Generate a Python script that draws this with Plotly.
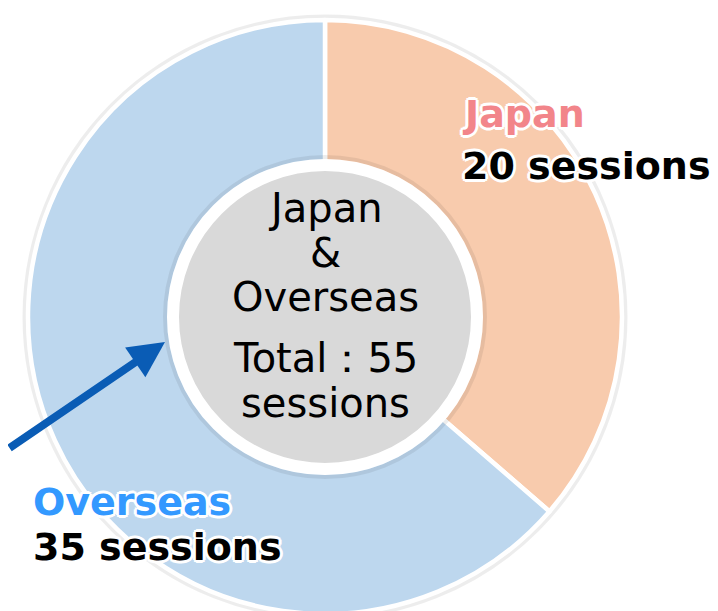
import plotly.graph_objects as go

# ---- data ----
regions = ["Japan", "Overseas"]
sessions = [20, 35]
center_title = ["Japan", "&", "Overseas"]
unit = "sessions"

total = sum(sessions)

# ---- styles ----
W, H = 718, 611
OFF = 8  # page offset of the plot div (default body margin)
slice_colors = ["#F8CBAD", "#BDD7EE"]
label_colors = ["#F2858A", "#3399FF"]
FONT = "DejaVu Sans"
outline = ", ".join(
    f"{dx}px {dy}px 0 #ffffff"
    for dx, dy in [(2, 0), (-2, 0), (0, 2), (0, -2), (2, 2), (-2, -2), (2, -2), (-2, 2),
                   (3, 0), (-3, 0), (0, 3), (0, -3)]
)

cx, cy, R = 325, 317, 297  # pie centre / radius in page pixels


def px(x):
    return (x - OFF) / W


def py(y):
    return 1 - (y - OFF) / H


fig = go.Figure()
fig.add_trace(go.Pie(
    labels=regions,
    values=sessions,
    sort=False,
    direction="clockwise",
    rotation=0,
    hole=0.5,
    textinfo="none",
    hoverinfo="label+value",
    marker=dict(colors=slice_colors, line=dict(color="#ffffff", width=4.5)),
    domain=dict(x=[px(cx - R), px(cx + R)], y=[py(cy + R), py(cy - R)]),
    showlegend=False,
))

shapes = []
# faint shadow around the ring
shapes.append(dict(type="circle", xref="paper", yref="paper", layer="below",
                   x0=px(cx - R - 3), x1=px(cx + R + 3), y0=py(cy + R + 3), y1=py(cy - R - 3),
                   line=dict(color="rgba(0,0,0,0.07)", width=5), fillcolor="rgba(0,0,0,0)"))
# shadow of inner disc
ri = 160
shapes.append(dict(type="circle", xref="paper", yref="paper", layer="above",
                   x0=px(cx - ri), x1=px(cx + ri), y0=py(cy + ri), y1=py(cy - ri),
                   line=dict(color="rgba(0,0,0,0.07)", width=4), fillcolor="rgba(0,0,0,0)"))
# inner grey disc with white border
rc = 152
shapes.append(dict(type="circle", xref="paper", yref="paper", layer="above",
                   x0=px(cx - rc), x1=px(cx + rc), y0=py(cy + rc), y1=py(cy - rc),
                   line=dict(color="#ffffff", width=12), fillcolor="#D9D9D9"))

ann = []
# slice labels
label_pos = [(460, 114, 166), (31, 502, 547)]
for i, (lx, ty, vy) in enumerate(label_pos):
    ann.append(dict(x=px(lx), y=py(ty), xref="paper", yref="paper", xanchor="left", yanchor="middle",
                    text=regions[i], showarrow=False,
                    font=dict(family=FONT, size=38, weight="bold", color=label_colors[i], shadow=outline)))
    ann.append(dict(x=px(lx), y=py(vy), xref="paper", yref="paper", xanchor="left", yanchor="middle",
                    text=f"{sessions[i]} {unit}", showarrow=False,
                    font=dict(family=FONT, size=38, weight="bold", color="#000000", shadow=outline)))

# centre text
center_lines = center_title + [f"Total：{total}", unit]
center_y = [208, 253, 297, 358, 403]
for t, yy in zip(center_lines, center_y):
    ann.append(dict(x=px(cx), y=py(yy), xref="paper", yref="paper", xanchor="center", yanchor="middle",
                    text=t, showarrow=False, font=dict(family=FONT, size=40, color="#000000")))

# arrow pointing to the centre
ann.append(dict(x=px(165), y=py(342), xref="paper", yref="paper", text="",
                showarrow=True, ax=-175, ay=107, arrowcolor="#0A5CB5", arrowwidth=8,
                arrowhead=2, arrowsize=0.9, standoff=0))

fig.update_layout(
    width=W, height=H,
    margin=dict(l=0, r=0, t=0, b=0),
    paper_bgcolor="#ffffff", plot_bgcolor="#ffffff",
    shapes=shapes, annotations=ann,
)

fig.write_html("out.html")
